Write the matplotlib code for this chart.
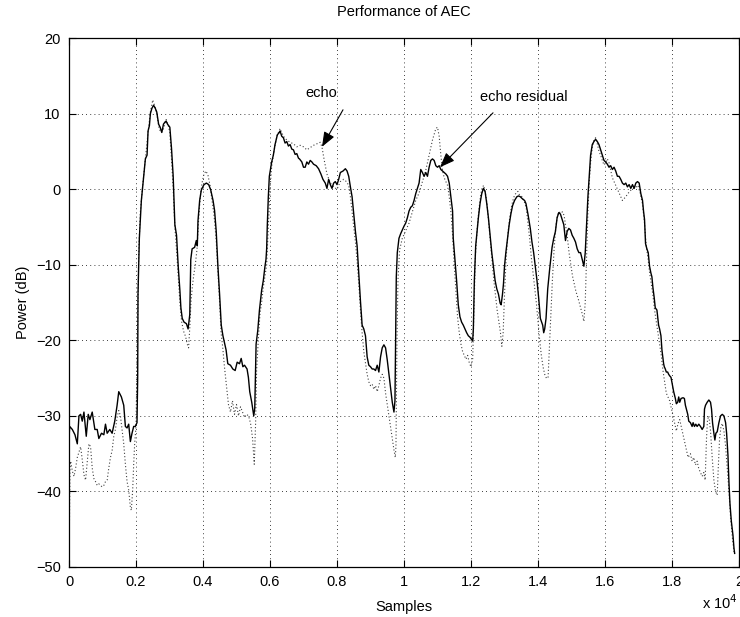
import matplotlib
matplotlib.use("Agg")
import matplotlib.pyplot as plt
from matplotlib.ticker import FuncFormatter

plt.rcParams['font.family'] = ['Liberation Sans', 'DejaVu Sans']

# ---------------- data ----------------
resid_x = [0, 20, 99, 178, 248, 297, 347, 396, 446, 515, 574, 624, 693, 772, 842, 891, 970, 1040,
           1089, 1139, 1218, 1287, 1366, 1436, 1485, 1564, 1634, 1683, 1733, 1782, 1832, 1881, 1931,
           1980, 2030, 2050, 2060, 2100, 2160, 2230, 2280, 2330, 2360, 2400, 2430, 2475, 2525, 2575,
           2620, 2675, 2720, 2770, 2820, 2870, 2900, 2941, 3010, 3060, 3110, 3160, 3210, 3260, 3310,
           3340, 3380, 3435, 3505, 3555, 3605, 3635, 3675, 3750, 3800, 3830, 3850, 3900, 3950, 4030,
           4100, 4170, 4230, 4300, 4345, 4395, 4445, 4495, 4545, 4595, 4645, 4690, 4740, 4820, 4890,
           4960, 5020, 5090, 5140, 5190, 5240, 5315, 5355, 5395, 5455, 5515, 5545, 5565, 5585, 5635,
           5685, 5750, 5800, 5850, 5880, 5900, 5920, 5950, 5980, 6050, 6100, 6150, 6220, 6280, 6300,
           6350, 6400, 6450, 6500, 6550, 6600, 6650, 6700, 6750, 6800, 6850, 6880, 6950, 7000, 7050,
           7100, 7150, 7200, 7250, 7300, 7380, 7450, 7520, 7580, 7650, 7700, 7750, 7800, 7850, 7900,
           7950, 8000, 8050, 8100, 8180, 8250, 8300, 8350, 8400, 8450, 8500, 8550, 8600, 8650, 8700,
           8750, 8800, 8850, 8900, 8950, 9000, 9050, 9100, 9150, 9200, 9250, 9300, 9350, 9400, 9450,
           9500, 9550, 9600, 9650, 9700, 9730, 9750, 9770, 9800, 9850, 9900, 9950, 10000, 10050,
           10100, 10150, 10200, 10250, 10300, 10350, 10400, 10450, 10500, 10550, 10600, 10650, 10700,
           10750, 10800, 10850, 10900, 10950, 11000, 11050, 11100, 11150, 11200, 11250, 11300, 11350,
           11400, 11450, 11470, 11520, 11570, 11620, 11670, 11720, 11770, 11820, 11870, 11920, 11970,
           12020, 12050, 12070, 12100, 12140, 12180, 12220, 12270, 12320, 12370, 12420, 12470, 12520,
           12570, 12620, 12670, 12720, 12770, 12820, 12870, 12900, 12940, 12970, 13000, 13040, 13090,
           13140, 13190, 13240, 13300, 13370, 13420, 13470, 13540, 13600, 13640, 13700, 13770, 13820,
           13870, 13920, 13970, 14020, 14070, 14140, 14170, 14200, 14240, 14290, 14350, 14420, 14470,
           14520, 14570, 14620, 14670, 14720, 14770, 14820, 14870, 14920, 14970, 15020, 15070, 15120,
           15170, 15220, 15270, 15320, 15370, 15410, 15450, 15490, 15530, 15570, 15620, 15670, 15720,
           15770, 15820, 15870, 15920, 15970, 16020, 16070, 16120, 16170, 16220, 16270, 16320, 16370,
           16420, 16470, 16520, 16570, 16620, 16670, 16720, 16770, 16820, 16870, 16920, 16970, 17020,
           17070, 17120, 17150, 17180, 17210, 17250, 17290, 17330, 17370, 17400, 17430, 17470, 17500,
           17550, 17600, 17630, 17670, 17700, 17750, 17770, 17800, 17830, 17870, 17900, 17930, 17970,
           18000, 18050, 18100, 18130, 18170, 18200, 18230, 18270, 18330, 18370, 18400, 18430, 18470,
           18500, 18550, 18600, 18630, 18670, 18710, 18750, 18800, 18850, 18900, 18950, 18970, 19000,
           19050, 19100, 19150, 19180, 19210, 19250, 19280, 19310, 19350, 19400, 19450, 19500, 19550,
           19600, 19630, 19670, 19700, 19730, 19770, 19820, 19850, 19870]
resid_db = [-33.0, -31.4, -31.8, -32.5, -33.7, -30.0, -29.8, -30.7, -29.5, -32.7, -29.8, -30.5, -29.5,
            -31.8, -31.8, -33.0, -32.3, -32.5, -31.1, -32.3, -31.8, -32.3, -30.7, -28.6, -26.8, -27.5,
            -28.6, -31.4, -31.6, -31.1, -33.4, -32.3, -31.4, -31.4, -30.9, -25.0, -13.9, -6.5, -1.5,
            1.7, 4.0, 4.5, 7.7, 8.4, 10.0, 10.7, 11.1, 10.7, 10.2, 8.6, 8.2, 7.5, 8.6, 8.9, 9.0, 8.6,
            8.2, 5.4, 1.7, -4.7, -6.1, -10.2, -13.4, -15.7, -17.1, -17.6, -17.8, -18.5, -16.6, -9.3,
            -7.9, -7.7, -6.8, -7.5, -4.2, -1.5, -0.1, 0.6, 0.8, 0.6, -0.1, -1.5, -2.8, -5.6, -10.2,
            -13.9, -18.0, -19.4, -20.4, -21.3, -23.1, -23.3, -23.8, -24.0, -22.9, -23.1, -22.4, -23.5,
            -23.3, -23.8, -24.9, -26.8, -28.2, -30.0, -29.0, -24.9, -20.5, -18.7, -16.0, -13.4, -12.1,
            -10.2, -9.3, -7.9, -4.7, -1.0, 1.7, 3.6, 4.5, 5.9, 7.2, 7.5, 7.7, 7.0, 6.8, 6.1, 6.3, 5.7,
            5.9, 5.3, 5.2, 4.6, 4.7, 4.1, 4.0, 3.6, 2.9, 2.9, 3.6, 3.3, 3.8, 3.6, 3.3, 3.1, 2.7, 2.0,
            1.3, 0.8, 0.1, 1.3, 0.6, 0.1, 0.8, 1.0, 0.6, 1.3, 2.2, 2.4, 2.7, 2.4, 1.7, 0.3, -1.0, -3.3,
            -5.6, -7.5, -11.1, -14.8, -18.0, -18.5, -19.4, -22.2, -23.3, -23.5, -23.8, -23.8, -24.0,
            -23.3, -24.2, -22.2, -21.0, -20.6, -21.0, -22.6, -24.5, -26.3, -28.2, -29.5, -28.0, -20.0,
            -11.6, -8.4, -6.5, -5.9, -5.4, -4.9, -4.5, -3.8, -2.9, -2.4, -2.2, -1.5, -0.6, 0.1, 0.8,
            2.6, 2.2, 1.7, 2.2, 1.7, 2.9, 3.8, 4.0, 3.8, 3.1, 2.9, 3.1, 2.6, 2.4, 2.2, 2.0, 1.7, 0.8,
            -1.0, -2.9, -6.5, -9.3, -12.1, -15.3, -16.9, -17.6, -18.0, -18.5, -19.0, -19.4, -19.6,
            -19.9, -20.1, -18.5, -12.1, -7.5, -5.6, -3.8, -1.9, -0.6, 0.1, -0.3, -1.9, -3.8, -6.1,
            -8.4, -10.2, -12.1, -13.2, -13.9, -15.1, -15.3, -13.9, -12.5, -10.2, -8.4, -6.6, -4.7,
            -3.3, -2.2, -1.5, -1.0, -0.9, -1.0, -1.3, -1.5, -1.9, -3.3, -5.2, -7.0, -8.4, -10.2, -12.1,
            -14.4, -17.1, -18.0, -19.0, -18.5, -17.1, -13.2, -10.5, -7.7, -6.5, -5.6, -3.8, -3.1, -3.3,
            -4.0, -4.7, -6.8, -5.6, -5.2, -5.4, -6.1, -6.5, -7.0, -7.9, -8.4, -8.4, -9.3, -10.2, -8.4,
            -4.7, -1.0, 1.7, 4.5, 5.9, 6.3, 6.6, 6.3, 5.9, 5.2, 4.5, 3.8, 3.6, 3.3, 2.9, 3.1, 2.6, 2.9,
            2.4, 1.7, 1.7, 1.3, 0.8, 0.6, 0.8, 0.3, 0.6, 0.1, 0.6, 0.1, 0.8, 1.0, 0.8, -0.6, -1.5, -2.9,
            -4.0, -7.2, -7.9, -8.4, -10.2, -11.1, -11.6, -13.0, -14.4, -15.7, -16.0, -18.0, -18.5,
            -19.4, -21.3, -23.1, -23.5, -23.8, -24.2, -24.2, -24.5, -24.7, -24.9, -25.6, -26.8, -27.7,
            -28.4, -28.2, -27.5, -28.2, -27.7, -27.6, -27.7, -28.6, -29.1, -29.8, -30.7, -30.9, -31.4,
            -30.9, -31.4, -31.1, -31.4, -31.1, -31.4, -31.8, -31.4, -29.1, -28.6, -28.2, -27.9, -28.2,
            -29.1, -30.9, -32.3, -33.2, -32.3, -32.1, -30.9, -30.0, -29.8, -30.0, -30.9, -32.3, -35.2,
            -38.8, -41.6, -43.9, -45.8, -47.5, -48.2]

echo_x = [0, 30, 50, 99, 149, 198, 248, 297, 347, 396, 446, 495, 545, 594, 644, 693, 743, 792, 842,
          891, 941, 990, 1040, 1089, 1139, 1188, 1238, 1287, 1337, 1386, 1436, 1485, 1535, 1584, 1634,
          1683, 1733, 1782, 1832, 1861, 1901, 1931, 1960, 2000, 2040, 2080, 2130, 2200, 2280, 2360,
          2430, 2500, 2560, 2620, 2690, 2750, 2820, 2900, 2960, 3010, 3060, 3110, 3160, 3210, 3260,
          3310, 3360, 3420, 3480, 3530, 3570, 3610, 3640, 3680, 3720, 3770, 3820, 3870, 3920, 3970,
          4030, 4090, 4150, 4210, 4270, 4330, 4390, 4440, 4490, 4540, 4590, 4640, 4700, 4760, 4820,
          4880, 4940, 5000, 5060, 5120, 5180, 5240, 5300, 5360, 5420, 5480, 5530, 5570, 5600, 5650,
          5700, 5750, 5800, 5850, 5900, 5950, 6000, 6050, 6100, 6150, 6220, 6300, 6400, 6500, 6600,
          6700, 6800, 6900, 7000, 7100, 7200, 7300, 7400, 7500, 7550, 7620, 7700, 7800, 7900, 8000,
          8050, 8100, 8200, 8280, 8350, 8400, 8450, 8500, 8550, 8600, 8650, 8700, 8750, 8800, 8850,
          8900, 8950, 9000, 9050, 9100, 9150, 9200, 9250, 9300, 9350, 9400, 9450, 9500, 9550, 9600,
          9650, 9700, 9740, 9760, 9790, 9820, 9870, 9950, 10050, 10150, 10250, 10350, 10450, 10550,
          10650, 10750, 10850, 10950, 11000, 11050, 11100, 11150, 11200, 11250, 11300, 11350, 11400,
          11450, 11500, 11550, 11600, 11650, 11700, 11750, 11800, 11850, 11900, 11950, 12000, 12050,
          12090, 12130, 12180, 12230, 12280, 12330, 12380, 12430, 12480, 12530, 12580, 12630, 12680,
          12730, 12780, 12830, 12880, 12920, 12960, 13000, 13050, 13100, 13150, 13200, 13250, 13300,
          13350, 13400, 13450, 13520, 13580, 13650, 13700, 13750, 13800, 13850, 13900, 13950, 14000,
          14050, 14100, 14150, 14200, 14250, 14300, 14330, 14380, 14430, 14480, 14530, 14580, 14630,
          14680, 14730, 14780, 14830, 14880, 14930, 14980, 15030, 15080, 15130, 15200, 15260, 15320,
          15370, 15410, 15450, 15490, 15530, 15570, 15620, 15670, 15720, 15770, 15820, 15870, 15920,
          15970, 16020, 16070, 16120, 16170, 16220, 16270, 16320, 16370, 16420, 16470, 16520, 16620,
          16700, 16800, 16900, 16980, 17050, 17120, 17180, 17230, 17280, 17330, 17380, 17430, 17480,
          17530, 17580, 17630, 17680, 17730, 17780, 17830, 17880, 17930, 17980, 18030, 18080, 18130,
          18180, 18230, 18280, 18330, 18380, 18430, 18480, 18550, 18600, 18650, 18700, 18750, 18800,
          18850, 18900, 18950, 18990, 19030, 19060, 19100, 19150, 19200, 19250, 19300, 19350, 19380,
          19420, 19460, 19500, 19550, 19600, 19650, 19700, 19750, 19800, 19850]
echo_db = [-50.0, -37.0, -36.0, -37.3, -38.0, -36.9, -35.5, -34.8, -34.1, -35.8, -37.8, -38.5, -36.0,
           -33.7, -34.1, -36.9, -38.3, -38.7, -39.2, -39.0, -39.2, -39.4, -39.2, -38.7, -38.5, -36.9,
           -35.5, -34.6, -32.7, -31.8, -30.2, -29.3, -30.0, -31.8, -33.7, -36.4, -38.7, -39.8, -42.1,
           -42.5, -39.8, -36.4, -33.7, -31.4, -20.0, -8.5, -3.0, 0.5, 4.0, 7.5, 10.2, 11.8, 11.0, 10.0,
           8.0, 7.5, 8.0, 9.2, 8.5, 7.5, 4.0, 0.0, -5.0, -8.0, -11.5, -15.0, -17.5, -18.8, -19.5, -20.5,
           -21.0, -18.0, -15.0, -13.0, -11.5, -10.0, -8.0, -4.0, -1.0, 0.8, 2.0, 2.4, 1.8, 0.5, -1.5,
           -3.5, -6.5, -10.5, -14.5, -19.0, -21.0, -23.5, -26.0, -28.5, -29.5, -28.0, -29.8, -28.5,
           -30.0, -28.8, -29.5, -30.2, -29.8, -30.0, -31.0, -33.0, -36.4, -31.0, -24.0, -20.0, -16.5,
           -15.0, -13.0, -11.5, -10.0, -5.0, 0.0, 3.0, 4.5, 5.8, 7.2, 8.0, 7.0, 6.5, 6.2, 6.0, 5.6,
           5.8, 5.6, 5.2, 5.5, 5.8, 6.0, 6.2, 5.6, 3.8, 2.0, 0.8, 0.3, 0.0, 0.5, 1.0, 1.3, 1.0, 0.5,
           -1.0, -3.0, -5.0, -7.0, -9.5, -12.5, -16.0, -19.0, -21.5, -23.0, -24.5, -25.5, -26.0, -25.8,
           -26.5, -26.0, -26.8, -26.0, -25.0, -24.5, -25.0, -27.0, -28.5, -30.0, -31.5, -33.0, -34.5,
           -35.5, -34.0, -20.0, -12.0, -8.0, -6.5, -5.5, -4.5, -3.0, -1.5, -0.5, 1.0, 2.5, 4.5, 6.5,
           8.0, 8.2, 7.0, 4.5, 2.5, 1.5, 1.0, 0.5, -1.0, -3.0, -6.0, -10.0, -13.5, -17.0, -19.0, -20.5,
           -21.5, -22.0, -22.5, -22.0, -23.0, -23.5, -22.5, -16.0, -9.0, -5.5, -3.0, -1.0, 0.2, 0.5,
           -0.5, -2.0, -4.5, -7.0, -9.5, -12.0, -14.0, -16.0, -17.5, -19.0, -20.8, -19.0, -14.0, -9.0,
           -6.0, -4.0, -2.5, -1.5, -0.8, -0.5, -0.3, -0.8, -1.0, -1.5, -2.5, -4.5, -6.5, -9.0, -11.0,
           -13.0, -15.0, -17.5, -20.0, -22.0, -23.5, -24.5, -25.0, -25.0, -22.0, -17.0, -12.0, -8.0,
           -5.0, -3.5, -3.0, -3.2, -3.0, -3.5, -5.0, -6.5, -8.5, -10.0, -11.5, -12.5, -13.5, -14.5,
           -15.5, -16.5, -17.5, -15.0, -9.0, -3.0, 1.0, 3.5, 5.5, 6.5, 6.8, 6.0, 5.0, 4.5, 3.8, 3.2,
           3.5, 4.0, 3.5, 2.5, 1.5, 1.0, 0.5, 0.0, -0.5, -1.0, -1.5, -1.0, -0.5, 0.0, 0.2, 0.5, -0.5,
           -2.0, -4.5, -7.5, -9.0, -11.0, -12.5, -14.0, -16.0, -17.5, -19.0, -20.5, -22.0, -24.0,
           -25.5, -27.0, -27.5, -28.0, -29.0, -30.0, -31.0, -32.0, -31.0, -30.5, -31.5, -32.5, -33.5,
           -34.5, -35.5, -35.0, -36.0, -35.5, -36.5, -36.0, -37.0, -37.5, -38.0, -37.5, -38.5, -33.0,
           -30.5, -30.0, -32.0, -35.5, -38.5, -40.0, -40.5, -37.0, -33.0, -31.5, -31.0, -32.0, -34.0,
           -37.0, -40.0, -43.5, -46.0, -48.0]

x_ticks = [0, 2000, 4000, 6000, 8000, 10000, 12000, 14000, 16000, 18000, 20000]
y_ticks = [-50, -40, -30, -20, -10, 0, 10, 20]

# ---------------- figure ----------------
W, H, DPI = 740, 617, 100
fig = plt.figure(figsize=(W / DPI, H / DPI), dpi=DPI)
ax = fig.add_axes([69 / W, 1 - 567 / H, 670 / W, 529 / H])

ax.plot(echo_x, echo_db, color='0.25', lw=0.8, linestyle=(0, (1, 2)))
ax.plot(resid_x, resid_db, color='k', lw=1.0)

ax.set_xlim(0, 20000)
ax.set_ylim(-50, 20)
ax.set_xticks(x_ticks)
ax.set_yticks(y_ticks)
ax.xaxis.set_major_formatter(FuncFormatter(lambda v, p: '%g' % (v / 1e4)))

fs = 10.5
ax.tick_params(direction='in', length=5, width=0.8, top=True, right=True,
               labelsize=fs, pad=6)
ax.grid(True, color='k', linestyle=(0, (1, 4)), lw=0.6)
for s in ax.spines.values():
    s.set_linewidth(0.9)

ax.set_title('Performance of AEC', fontsize=fs, pad=16)
ax.set_xlabel('Samples', fontsize=fs, labelpad=8)
ax.set_ylabel('Power (dB)', fontsize=fs, labelpad=4)
ax.text(0.998, -0.068, r'x 10$^{4}$', transform=ax.transAxes, ha='right', va='center', fontsize=fs)

arrow = dict(arrowstyle='-|>,head_length=0.9,head_width=0.35', color='k', lw=0.8,
             shrinkA=0, shrinkB=0)
ax.annotate('', xy=(7552, 5.6), xytext=(8179, 10.5), arrowprops=arrow)
ax.text(7522, 12.7, 'echo', ha='center', va='center', fontsize=fs)
ax.annotate('', xy=(11075, 2.9), xytext=(12657, 10.1), arrowprops=arrow)
ax.text(13582, 12.2, 'echo residual', ha='center', va='center', fontsize=fs)

fig.savefig('out.png', dpi=DPI)
